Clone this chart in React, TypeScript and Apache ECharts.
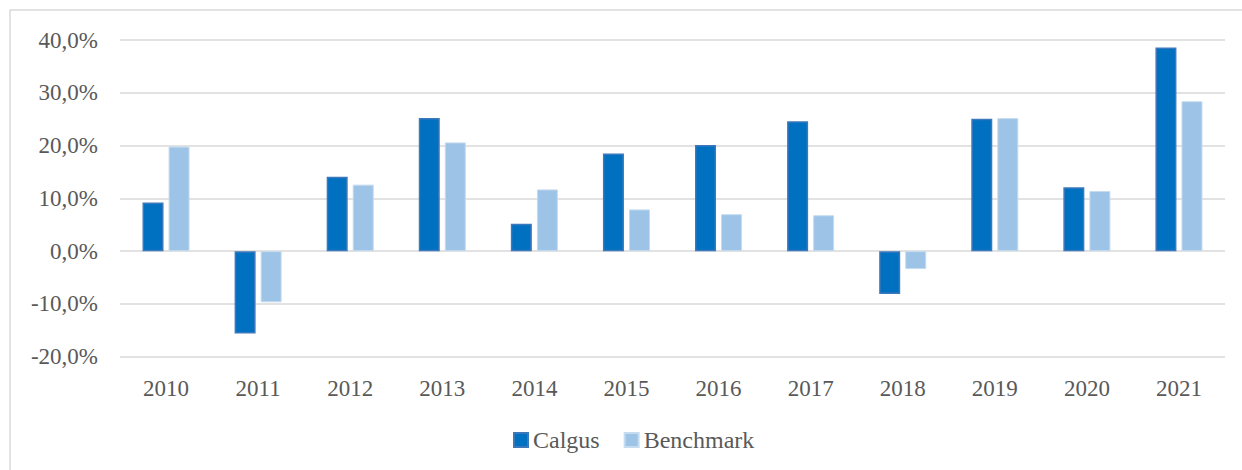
import React, { useEffect, useRef } from "react";
import * as echarts from "echarts";

const years = ["2010", "2011", "2012", "2013", "2014", "2015", "2016", "2017", "2018", "2019", "2020", "2021"];
const calgus = [9.2, -15.6, 14.1, 25.2, 5.2, 18.5, 20.1, 24.6, -8.1, 25.1, 12.1, 38.6];
const benchmark = [19.8, -9.7, 12.6, 20.6, 11.7, 7.9, 7.0, 6.8, -3.4, 25.2, 11.4, 28.4];
const seriesNames = ["Calgus", "Benchmark"];

const FONT = "'Liberation Serif', serif";
const TEXT = "#595959";

export default function App() {
  const ref = useRef<HTMLDivElement>(null);
  useEffect(() => {
    if (!ref.current) return;
    const chart = echarts.init(ref.current, null, { renderer: "svg" });
    chart.setOption({
      animation: false,
      backgroundColor: "#ffffff",
      graphic: [
        {
          type: "rect",
          shape: { x: 10, y: 10, width: 1260, height: 500 },
          style: { fill: "none", stroke: "#d9d9d9", lineWidth: 1.5 },
          silent: true,
        },
      ],
      grid: { left: 120, right: 17, top: 40, bottom: 113.3 },
      legend: {
        left: 513,
        top: 428,
        padding: 0,
        itemWidth: 14,
        itemHeight: 14,
        itemGap: 24,
        icon: "rect",
        textStyle: { fontFamily: FONT, fontSize: 24, color: TEXT },
        data: seriesNames,
      },
      xAxis: {
        type: "category",
        data: years,
        axisLine: { show: false },
        axisTick: { show: false },
        axisLabel: { fontFamily: FONT, fontSize: 23, color: TEXT, margin: 20 },
        splitLine: { show: false },
      },
      yAxis: {
        type: "value",
        min: -20,
        max: 40,
        interval: 10,
        axisLine: { show: false },
        axisTick: { show: false },
        axisLabel: {
          fontFamily: FONT,
          fontSize: 23,
          color: TEXT,
          margin: 22,
          formatter: (v: number) => v.toFixed(1).replace(".", ",") + "%",
        },
        splitLine: { lineStyle: { color: "#d9d9d9", width: 1.5 } },
      },
      series: [
        {
          name: seriesNames[0],
          type: "bar",
          data: calgus,
          barWidth: 21,
          barGap: "24%",
          itemStyle: { color: "#0070C0", borderColor: "#3C78BC", borderWidth: 1.5 },
        },
        {
          name: seriesNames[1],
          type: "bar",
          data: benchmark,
          barWidth: 21,
          itemStyle: { color: "#9DC3E6", borderColor: "#C5DCF0", borderWidth: 1 },
        },
      ],
    });
    return () => chart.dispose();
  }, []);
  return (
    <div
      ref={ref}
      style={{ position: "fixed", left: 0, top: 0, width: 1242, height: 470 }}
    />
  );
}
